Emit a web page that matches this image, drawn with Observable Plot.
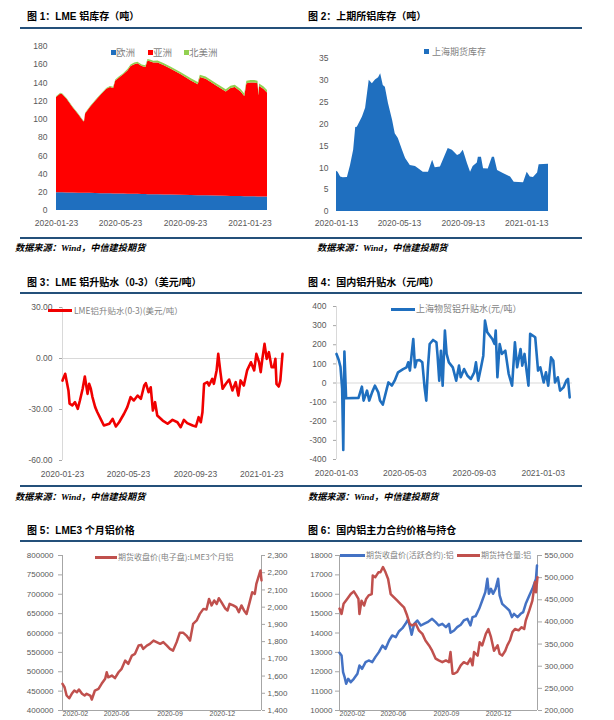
<!DOCTYPE html>
<html>
<head>
<meta charset="utf-8">
<script src="https://cdn.jsdelivr.net/npm/d3@7"></script>
<script src="https://cdn.jsdelivr.net/npm/@observablehq/plot@0.6"></script>
<style>
  body { margin: 0; background: #fff; }
  #page { position: relative; width: 614px; height: 720px; overflow: hidden; background: #fff;
          font-family: "Noto Sans CJK SC", sans-serif; }
  .title { position: absolute; font-family: "Liberation Sans", "Noto Sans CJK SC", sans-serif;
           font-weight: bold; font-size: 10px; line-height: 10px; color: #000; white-space: nowrap; }
  .rule { position: absolute; height: 2px; background: #24507a; }
  .src { position: absolute; font-family: "Liberation Serif", "Noto Sans CJK SC", serif; font-weight: bold;
         font-style: italic; font-size: 9.2px; line-height: 10px; color: #000; white-space: nowrap; }
  .lg { position: absolute; z-index: 2; font-family: "Noto Sans CJK SC", sans-serif; color: #7f7f7f;
        white-space: nowrap; line-height: 10px; }
  .sw { position: absolute; z-index: 2; }
  svg g[aria-label="y-axis tick"] { color: #a6a6a6; }
</style>
</head>
<body>
<div id="page">
  <!-- row 1 -->
  <div class="title" style="left:27px;top:12px">图 1：LME 铝库存（吨）</div>
  <div class="title" style="left:308px;top:12px">图 2：上期所铝库存（吨）</div>
  <div class="rule" style="left:20px;top:27px;width:562px"></div>
  <div class="rule" style="left:20px;top:237px;width:562px"></div>
  <div class="src" style="left:15px;top:243px">数据来源：Wind，中信建投期货</div>
  <div class="src" style="left:317px;top:243px">数据来源：Wind，中信建投期货</div>

  <div class="sw" style="left:110.5px;top:49.5px;width:5px;height:5px;background:#1f6fbf"></div>
  <div class="lg" style="left:116px;top:47px;font-size:9.5px">欧洲</div>
  <div class="sw" style="left:147.5px;top:49.5px;width:5px;height:5px;background:#ff0000"></div>
  <div class="lg" style="left:153px;top:47px;font-size:9.5px">亚洲</div>
  <div class="sw" style="left:183.5px;top:49.5px;width:5px;height:5px;background:#92d050"></div>
  <div class="lg" style="left:189px;top:47px;font-size:9.5px">北美洲</div>

  <div class="sw" style="left:424px;top:49px;width:5px;height:5px;background:#1f6fbf"></div>
  <div class="lg" style="left:432px;top:47px;font-size:9px">上海期货库存</div>

  <!-- row 2 -->
  <div class="title" style="left:27px;top:278px">图 3：LME 铝升贴水（0-3）（美元/吨）</div>
  <div class="title" style="left:308px;top:278px">图 4：国内铝升贴水（元/吨）</div>
  <div class="rule" style="left:20px;top:292px;width:562px"></div>
  <div class="rule" style="left:20px;top:485px;width:562px"></div>
  <div class="src" style="left:15px;top:492px">数据来源：Wind，中信建投期货</div>
  <div class="src" style="left:308px;top:492px">数据来源：Wind，中信建投期货</div>

  <div class="sw" style="left:48px;top:308.5px;width:24px;height:3px;background:#f00000"></div>
  <div class="lg" style="left:74px;top:305px;font-size:8.5px">LME铝升贴水(0-3)(美元/吨）</div>
  <div class="sw" style="left:391px;top:307.5px;width:24px;height:3px;background:#1f6fbf"></div>
  <div class="lg" style="left:416px;top:304px;font-size:9px">上海物贸铝升贴水(元/吨）</div>

  <!-- row 3 -->
  <div class="title" style="left:27px;top:526px">图 5：LME3 个月铝价格</div>
  <div class="title" style="left:308px;top:526px">图 6：国内铝主力合约价格与持仓</div>
  <div class="rule" style="left:20px;top:540px;width:562px"></div>

  <div class="sw" style="left:95px;top:555.5px;width:22px;height:3px;background:#c0504d"></div>
  <div class="lg" style="left:118px;top:552px;font-size:8px">期货收盘价(电子盘):LME3个月铝</div>
  <div class="sw" style="left:340px;top:553.5px;width:25px;height:3px;background:#4472c4"></div>
  <div class="lg" style="left:366px;top:550px;font-size:8px">期货收盘价(活跃合约):铝</div>
  <div class="sw" style="left:457px;top:553.5px;width:23px;height:3px;background:#c0504d"></div>
  <div class="lg" style="left:481px;top:550px;font-size:8px">期货持仓量:铝</div>
</div>

<script>
// ---------- LME aluminium stocks by region (thousand tonnes) ----------
const stockDates = ["2020-01-23","2020-01-27","2020-01-31","2020-02-04","2020-02-12","2020-02-23","2020-03-05","2020-03-14","2020-03-16","2020-03-18","2020-03-27","2020-04-06","2020-04-17","2020-04-27","2020-05-04","2020-05-10","2020-05-14","2020-05-20","2020-05-29","2020-06-06","2020-06-12","2020-06-19","2020-06-25","2020-07-03","2020-07-10","2020-07-14","2020-07-20","2020-07-25","2020-08-02","2020-08-14","2020-08-27","2020-09-15","2020-10-04","2020-10-17","2020-10-21","2020-11-01","2020-11-20","2020-12-09","2020-12-18","2020-12-26","2021-01-06","2021-01-13","2021-01-17","2021-01-25","2021-02-01","2021-02-07","2021-02-09","2021-02-10","2021-02-18","2021-02-25"];
const europeStock = [19.5,19.5,19.4,19.4,19.3,19.2,19.0,18.9,18.9,18.9,18.8,18.6,18.5,18.4,18.3,18.2,18.2,18.1,18.0,17.9,17.8,17.7,17.7,17.6,17.5,17.4,17.4,17.3,17.2,17.1,16.9,16.7,16.4,16.3,16.2,16.1,15.9,15.6,15.5,15.4,15.3,15.2,15.2,15.1,15.0,14.9,14.9,14.9,14.8,14.7];
const asiaStock = [104.5,106.5,108.6,107.6,102.7,93.8,86.0,79.1,78.1,87.1,94.2,101.4,108.5,114.6,116.7,115.8,123.8,126.9,131.0,135.1,140.2,142.3,143.3,140.4,139.5,146.6,145.6,144.7,144.8,141.9,138.1,132.3,125.6,121.7,129.8,127.9,121.1,114.4,118.5,119.6,114.7,109.8,123.8,124.9,125.0,124.1,111.1,121.1,118.2,114.3];
const northAmericaStock = [0.8,0.8,0.8,0.8,0.8,0.8,0.8,0.8,0.8,0.8,0.8,0.8,0.8,0.8,1.2,1.2,1.2,1.2,1.2,1.8,1.8,1.8,1.8,1.8,1.8,1.8,1.8,1.8,2.2,2.2,2.2,2.2,2.5,2.5,2.5,2.5,2.5,2.5,2.5,2.5,2.8,2.8,2.8,2.8,2.8,2.8,2.8,2.8,2.8,2.8];
const regions = ["欧洲", "亚洲", "北美洲"];
const regionColors = ["#1f6fbf", "#ff0000", "#92d050"];
const stockTicksX = ["2020-01-23","2020-05-23","2020-09-23","2021-01-23"];
const stockTicksY = [0,20,40,60,80,100,120,140,160,180];

// ---------- SHFE aluminium warehouse stocks ----------
const shfeDates = ["2020-01-13","2020-01-16","2020-01-21","2020-01-26","2020-02-03","2020-02-09","2020-02-15","2020-02-19","2020-02-22","2020-03-03","2020-03-09","2020-03-16","2020-03-22","2020-03-28","2020-04-03","2020-04-07","2020-04-12","2020-04-16","2020-04-22","2020-04-30","2020-05-05","2020-05-11","2020-05-19","2020-05-25","2020-06-03","2020-06-13","2020-06-19","2020-06-28","2020-07-08","2020-07-16","2020-07-21","2020-07-31","2020-08-15","2020-08-23","2020-09-02","2020-09-07","2020-09-13","2020-09-21","2020-09-27","2020-10-02","2020-10-10","2020-10-12","2020-10-18","2020-10-22","2020-10-31","2020-11-08","2020-11-12","2020-11-18","2020-11-29","2020-12-13","2020-12-20","2021-01-07","2021-01-14","2021-01-20","2021-01-26","2021-02-03","2021-02-06","2021-02-24"];
const shfeStock = [9.2,9.0,7.9,7.7,7.8,10.5,14.0,19.2,19.3,21.6,23.6,30.0,29.2,30.1,30.6,31.5,28.8,28.4,24.7,20.8,17.8,16.7,14.0,12.1,10.5,10.3,9.8,9.0,9.0,11.7,10.0,10.2,14.4,14.0,12.8,13.1,14.0,11.0,9.0,10.3,11.1,12.4,12.4,9.8,9.7,12.4,12.4,9.4,8.7,7.9,6.7,6.6,9.0,7.9,7.8,8.8,10.7,10.8];
const shfeTicksX = ["2020-01-13","2020-05-13","2020-09-13","2021-01-13"];
const shfeTicksY = [0,5,10,15,20,25,30,35];

// ---------- LME cash-3M spread (USD/t) ----------
const lmeSpreadDates = ["2020-01-23","2020-01-24","2020-01-28","2020-01-31","2020-02-03","2020-02-05","2020-02-10","2020-02-15","2020-02-20","2020-02-24","2020-02-29","2020-03-04","2020-03-09","2020-03-12","2020-03-15","2020-03-18","2020-03-23","2020-03-27","2020-04-02","2020-04-08","2020-04-18","2020-04-24","2020-04-30","2020-05-06","2020-05-15","2020-05-21","2020-05-27","2020-06-02","2020-06-09","2020-06-15","2020-06-21","2020-06-24","2020-06-29","2020-07-03","2020-07-07","2020-07-11","2020-07-15","2020-07-25","2020-08-03","2020-08-12","2020-08-21","2020-08-27","2020-09-02","2020-09-08","2020-09-18","2020-09-24","2020-09-29","2020-10-03","2020-10-06","2020-10-09","2020-10-15","2020-10-18","2020-10-24","2020-10-27","2020-11-01","2020-11-04","2020-11-08","2020-11-12","2020-11-18","2020-11-24","2020-11-30","2020-12-06","2020-12-11","2020-12-15","2020-12-21","2020-12-27","2021-01-03","2021-01-09","2021-01-13","2021-01-18","2021-01-21","2021-01-24","2021-01-28","2021-02-01","2021-02-05","2021-02-10","2021-02-14","2021-02-17","2021-02-19","2021-02-23","2021-02-26","2021-03-02"];
const lmeSpread = [-13,-12,-9,-14,-19,-26.6,-27.6,-25.7,-29.6,-24.7,-17.8,-10.6,-20.8,-14.9,-17.8,-22.7,-28.6,-31.6,-35.5,-39.4,-38.4,-35.5,-40,-37.5,-32.5,-28.6,-22.7,-24.7,-21.8,-23.7,-15.9,-14.5,-19.8,-16.9,-30.6,-25.7,-33.5,-36.5,-38.4,-36.1,-37.5,-40.4,-36.1,-38,-39.4,-40,-34.5,-37.5,-31.6,-14.9,-13.9,-15.9,-12,-14.9,-7,2.7,-8,-17.8,-14.9,-12.4,-18.8,-13.9,-21.8,-12.9,-15.9,-7,-2.2,-7,2.7,-2.2,-8,-0.2,8.6,-0.2,3.7,-5.1,-5.1,-0.2,-14.9,-16.5,-13,2.7];
const lmeSpreadTicksX = ["2020-01-23","2020-05-23","2020-09-23","2021-01-23"];
const lmeSpreadTicksY = [-60,-30,0,30];

// ---------- Shanghai spot premium / discount (CNY/t) ----------
const shSpotDates = ["2020-01-03","2020-01-07","2020-01-10","2020-01-13","2020-01-15","2020-01-17","2020-01-20","2020-02-11","2020-02-13","2020-02-17","2020-02-20","2020-02-26","2020-03-01","2020-03-06","2020-03-11","2020-03-17","2020-03-20","2020-03-25","2020-04-01","2020-04-04","2020-04-10","2020-04-15","2020-04-21","2020-04-30","2020-05-06","2020-05-09","2020-05-12","2020-05-18","2020-05-21","2020-05-24","2020-05-29","2020-06-03","2020-06-07","2020-06-10","2020-06-13","2020-06-16","2020-06-22","2020-06-28","2020-06-30","2020-07-03","2020-07-06","2020-07-09","2020-07-13","2020-07-16","2020-07-20","2020-07-27","2020-08-02","2020-08-07","2020-08-10","2020-08-16","2020-08-22","2020-08-28","2020-09-03","2020-09-06","2020-09-10","2020-09-15","2020-09-19","2020-09-22","2020-09-26","2020-10-05","2020-10-09","2020-10-11","2020-10-14","2020-10-18","2020-10-22","2020-10-28","2020-11-03","2020-11-09","2020-11-14","2020-11-18","2020-11-24","2020-11-27","2020-12-01","2020-12-05","2020-12-08","2020-12-11","2020-12-20","2020-12-25","2020-12-29","2021-01-04","2021-01-08","2021-01-12","2021-01-17","2021-01-21","2021-01-24","2021-01-29","2021-02-02","2021-02-08","2021-02-13","2021-02-16","2021-02-19"];
const shSpot = [152,120,85,-30,-350,165,-80,-78,-58,-19,-92,-40,-92,-49,-14,-49,-92,-113,-31,3,-14,12,56,73,82,108,65,230,82,117,120,108,-23,-92,82,204,225,213,143,12,169,-14,274,152,108,82,12,91,30,73,38,21,56,108,12,82,143,326,265,230,204,274,30,204,152,169,47,-14,213,82,178,91,152,56,-14,257,239,65,82,3,56,-14,134,117,3,30,-40,-23,12,21,-75];
const shSpotTicksX = ["2020-01-03","2020-05-03","2020-09-03","2021-01-03"];
const shSpotTicksY = [-400,-300,-200,-100,0,100,200,300,400];

// ---------- LME 3-month aluminium close (USD/t) ----------
const lme3Dates = ["2020-02-03","2020-02-07","2020-02-11","2020-02-16","2020-02-21","2020-02-26","2020-03-02","2020-03-06","2020-03-12","2020-03-17","2020-03-21","2020-03-28","2020-03-31","2020-04-06","2020-04-13","2020-04-19","2020-04-26","2020-04-29","2020-05-02","2020-05-09","2020-05-15","2020-05-22","2020-05-28","2020-06-04","2020-06-10","2020-06-17","2020-06-23","2020-06-30","2020-07-05","2020-07-09","2020-07-16","2020-07-22","2020-07-29","2020-08-04","2020-08-11","2020-08-17","2020-08-24","2020-08-30","2020-09-05","2020-09-12","2020-09-18","2020-09-25","2020-10-01","2020-10-08","2020-10-14","2020-10-21","2020-10-27","2020-11-03","2020-11-09","2020-11-14","2020-11-19","2020-11-24","2020-11-29","2020-12-03","2020-12-08","2020-12-15","2020-12-20","2020-12-24","2020-12-31","2021-01-06","2021-01-11","2021-01-16","2021-01-21","2021-01-26","2021-02-01","2021-02-06","2021-02-11","2021-02-14","2021-02-19","2021-02-22","2021-02-24"];
const lme3Close = [1555,1535,1487,1471,1497,1516,1506,1522,1497,1487,1497,1487,1464,1516,1526,1555,1584,1622,1593,1603,1588,1622,1642,1690,1671,1719,1729,1777,1781,1758,1777,1787,1806,1797,1787,1797,1777,1758,1748,1797,1851,1851,1835,1806,1903,1923,1961,1990,1986,2048,2010,2039,2019,2052,2029,1994,1981,2019,2010,2000,1971,2010,1981,1961,2029,2087,2077,2135,2184,2213,2155];
const lme3LeftTicks = [400000,450000,500000,550000,600000,650000,700000,750000,800000];
const lme3RightTicks = [1400,1500,1600,1700,1800,1900,2000,2100,2200,2300];

// ---------- SHFE most-active aluminium: close (CNY/t) and open interest ----------
const shfeCloseDates = ["2020-02-03","2020-02-07","2020-02-10","2020-02-13","2020-02-16","2020-02-20","2020-02-25","2020-03-02","2020-03-09","2020-03-13","2020-03-18","2020-03-25","2020-03-31","2020-04-07","2020-04-13","2020-04-20","2020-04-27","2020-05-03","2020-05-10","2020-05-16","2020-05-23","2020-05-29","2020-06-05","2020-06-11","2020-06-16","2020-06-19","2020-06-23","2020-06-28","2020-07-04","2020-07-11","2020-07-17","2020-07-24","2020-08-02","2020-08-09","2020-08-15","2020-08-22","2020-08-29","2020-09-04","2020-09-07","2020-09-14","2020-09-20","2020-09-27","2020-10-03","2020-10-10","2020-10-16","2020-10-20","2020-10-26","2020-11-02","2020-11-08","2020-11-14","2020-11-18","2020-11-21","2020-11-25","2020-11-29","2020-12-04","2020-12-09","2020-12-12","2020-12-17","2020-12-24","2020-12-31","2021-01-05","2021-01-09","2021-01-16","2021-01-22","2021-01-27","2021-02-01","2021-02-08","2021-02-14","2021-02-21","2021-02-23"];
const shfeClose = [12978,12840,11980,11722,11378,11636,11464,11636,11894,12324,12152,12496,12582,12496,12754,13012,13356,13184,13614,13872,13786,14078,14250,14474,14698,14388,13906,14474,14646,14388,14474,14560,14732,14560,14388,14474,14302,14474,14010,14130,14302,14422,14646,14732,14388,14818,14870,15248,15678,16108,16796,16022,16280,16022,16280,16796,15936,15506,15334,15162,14818,14990,14818,14990,15076,15506,15936,16280,16796,17484];
const shfeOIDates = ["2020-02-03","2020-02-07","2020-02-11","2020-02-18","2020-02-25","2020-03-02","2020-03-07","2020-03-11","2020-03-13","2020-03-17","2020-03-22","2020-03-26","2020-03-31","2020-04-06","2020-04-08","2020-04-13","2020-04-19","2020-04-23","2020-04-28","2020-05-03","2020-05-08","2020-05-13","2020-05-19","2020-05-26","2020-06-01","2020-06-08","2020-06-14","2020-06-19","2020-06-24","2020-07-01","2020-07-07","2020-07-14","2020-07-20","2020-07-27","2020-08-02","2020-08-09","2020-08-15","2020-08-22","2020-08-29","2020-09-04","2020-09-07","2020-09-11","2020-09-14","2020-09-20","2020-09-27","2020-10-03","2020-10-10","2020-10-16","2020-10-20","2020-10-23","2020-10-30","2020-11-03","2020-11-08","2020-11-15","2020-11-20","2020-11-25","2020-12-01","2020-12-08","2020-12-12","2020-12-17","2020-12-23","2020-12-27","2021-01-01","2021-01-06","2021-01-11","2021-01-18","2021-01-24","2021-01-29","2021-02-01","2021-02-08","2021-02-14","2021-02-19","2021-02-21","2021-02-24"];
const shfeOI = [430000,418000,441000,452000,463000,469000,460000,452000,418000,448000,437000,452000,460000,463000,505000,501000,512000,512000,524000,512000,497000,463000,456000,448000,441000,433000,415000,396000,392000,396000,381000,373000,358000,347000,335000,317000,313000,309000,313000,309000,332000,283000,283000,287000,302000,309000,305000,317000,302000,332000,324000,354000,347000,373000,384000,366000,335000,347000,328000,324000,335000,347000,358000,377000,384000,381000,388000,384000,403000,426000,448000,490000,467000,501000];
const shfeLeftTicks = [10000,11000,12000,13000,14000,15000,16000,17000,18000];
const shfeRightTicks = [200000,250000,300000,350000,400000,450000,500000,550000];

const futTickDates = ["2020-02-03","2020-05-18","2020-08-30","2020-12-10"];
const futTickLabels = ["2020-02","2020-06","2020-09","2020-12"];

// ---------- helpers ----------
const page = document.getElementById("page");
const day = s => new Date(s + "T00:00:00Z");
const ymd = d3.utcFormat("%Y-%m-%d");
const series = (dates, values) => dates.map((d, i) => ({date: day(d), value: values[i]}));
function place(svg, left, top) {
  svg.style.position = "absolute";
  svg.style.left = left + "px";
  svg.style.top = top + "px";
  page.appendChild(svg);
}
const axisFont = (size) => ({
  fontFamily: "'Liberation Sans', Arial, sans-serif",
  fontSize: size, color: "#595959", background: "none", overflow: "visible"
});
const plain = v => String(v);

// ---------- 图1: stacked area of LME stocks ----------
const stockDay = stockDates.map(day);
const stockRows = stockDay.flatMap((d, i) => [
  {date: d, region: regions[0], value: europeStock[i]},
  {date: d, region: regions[1], value: asiaStock[i]},
  {date: d, region: regions[2], value: northAmericaStock[i]}
]);
place(Plot.plot({
  width: 280, height: 196, marginLeft: 56, marginRight: 13, marginTop: 10, marginBottom: 22,
  style: axisFont("8.5px"),
  x: {type: "utc", domain: [day("2020-01-23"), day("2021-02-25")], ticks: stockTicksX.map(day),
      tickFormat: ymd, tickSize: 0, tickPadding: 9, label: null},
  y: {domain: [0, 180], ticks: stockTicksY, tickFormat: plain, tickSize: 0, tickPadding: 9, label: null},
  color: {domain: regions, range: regionColors},
  marks: [
    Plot.areaY(stockRows, {x: "date", y: "value", fill: "region", order: regions})
  ]
}), 0, 36);

// ---------- 图2: SHFE stocks area ----------
place(Plot.plot({
  width: 290, height: 185, marginLeft: 36, marginRight: 42, marginTop: 10, marginBottom: 22,
  style: axisFont("8.5px"),
  x: {type: "utc", domain: [day("2020-01-13"), day("2021-02-24")], ticks: shfeTicksX.map(day),
      tickFormat: ymd, tickSize: 0, tickPadding: 8, label: null},
  y: {domain: [0, 35], ticks: shfeTicksY, tickFormat: plain, tickSize: 0, tickPadding: 8, label: null},
  marks: [
    Plot.areaY(series(shfeDates, shfeStock), {x: "date", y: "value", fill: "#1f6fbf"})
  ]
}), 300, 48);

// ---------- 图3: LME 0-3 spread ----------
const x3 = [day("2020-01-23"), day("2021-03-02")];
place(Plot.plot({
  width: 290, height: 185, marginLeft: 62, marginRight: 8, marginTop: 10, marginBottom: 22,
  style: axisFont("8.5px"),
  x: {type: "utc", domain: x3, ticks: lmeSpreadTicksX.map(day), tickFormat: ymd,
      tickSize: 0, tickPadding: 10, label: null},
  y: {domain: [-60, 30], ticks: lmeSpreadTicksY, tickFormat: v => v.toFixed(2),
      tickSize: 3, tickPadding: 7, label: null},
  marks: [
    Plot.ruleX([x3[0]], {stroke: "#d9d9d9"}),
    Plot.ruleY([0], {stroke: "#d9d9d9"}),
    Plot.line(series(lmeSpreadDates, lmeSpread), {x: "date", y: "value", stroke: "#f00000", strokeWidth: 2.6})
  ]
}), 0, 297);

// ---------- 图4: Shanghai spot premium ----------
const x4 = [day("2020-01-03"), day("2021-02-24")];
place(Plot.plot({
  width: 290, height: 185, marginLeft: 36, marginRight: 18, marginTop: 10, marginBottom: 22,
  style: axisFont("8.5px"),
  x: {type: "utc", domain: x4, ticks: shSpotTicksX.map(day), tickFormat: ymd,
      tickSize: 0, tickPadding: 10, label: null},
  y: {domain: [-400, 400], ticks: shSpotTicksY, tickFormat: plain, tickSize: 3, tickPadding: 7, label: null},
  marks: [
    Plot.ruleX([x4[0]], {stroke: "#d9d9d9"}),
    Plot.ruleY([0], {stroke: "#d9d9d9"}),
    Plot.line(series(shSpotDates, shSpot), {x: "date", y: "value", stroke: "#1f6fbf", strokeWidth: 2.6})
  ]
}), 300, 296);

// ---------- 图5 / 图6: dual-axis futures panels ----------
const x56 = [day("2020-02-03"), day("2021-02-24")];
const axisGrey = "#a6a6a6";
// date labels along the bottom edge; the first one starts at the axis so it clears the y labels
const futLabelMarks = () => [
  Plot.text(futTickDates.slice(0, 1), {x: day, text: (d, i) => futTickLabels[0], frameAnchor: "bottom",
    dy: 5.5, textAnchor: "start", fontSize: 7, fill: "#595959"}),
  Plot.text(futTickDates.slice(1), {x: day, text: (d, i) => futTickLabels[i + 1], frameAnchor: "bottom",
    dy: 5.5, textAnchor: "middle", fontSize: 7, fill: "#595959"})
];

function dualPanel({left, frame, leftDomain, leftTicks, leftFormat, leftSize, leftPad,
                    rightDomain, rightTicks, rightSize, rightPad, leftMarks, rightMarks}) {
  place(Plot.plot({
    ...frame, style: axisFont("8px"),
    x: {type: "utc", domain: x56, axis: null},
    y: {domain: leftDomain, ticks: leftTicks, tickFormat: leftFormat, tickSize: leftSize,
        tickPadding: leftPad, label: null},
    marks: [
      Plot.ruleX(x56, {stroke: axisGrey}),
      Plot.ruleY([leftDomain[0]], {stroke: axisGrey}),
      ...futLabelMarks(),
      ...leftMarks
    ]
  }), left, 545);
  place(Plot.plot({
    ...frame, style: axisFont("8px"),
    x: {type: "utc", domain: x56, axis: null},
    y: {domain: rightDomain, axis: "right", ticks: rightTicks, tickFormat: d3.format(","),
        tickSize: rightSize, tickPadding: rightPad, label: null},
    marks: rightMarks
  }), left, 545);
}

dualPanel({
  left: 0,
  frame: {width: 300, height: 175, marginLeft: 62, marginRight: 39, marginTop: 10, marginBottom: 10},
  leftDomain: [400000, 800000], leftTicks: lme3LeftTicks, leftFormat: plain, leftSize: 4, leftPad: 5,
  rightDomain: [1400, 2300], rightTicks: lme3RightTicks, rightSize: 3, rightPad: 3,
  leftMarks: [],
  rightMarks: [
    Plot.line(series(lme3Dates, lme3Close), {x: "date", y: "value", stroke: "#c0504d", strokeWidth: 2.5})
  ]
});

dualPanel({
  left: 300,
  frame: {width: 290, height: 175, marginLeft: 39, marginRight: 53, marginTop: 10, marginBottom: 10},
  leftDomain: [10000, 18000], leftTicks: shfeLeftTicks, leftFormat: plain, leftSize: 4, leftPad: 3,
  rightDomain: [200000, 550000], rightTicks: shfeRightTicks, rightSize: 4, rightPad: 3,
  leftMarks: [
    Plot.line(series(shfeCloseDates, shfeClose), {x: "date", y: "value", stroke: "#4472c4", strokeWidth: 2.5})
  ],
  rightMarks: [
    Plot.line(series(shfeOIDates, shfeOI), {x: "date", y: "value", stroke: "#c0504d", strokeWidth: 2.5})
  ]
});
</script>
</body>
</html>
